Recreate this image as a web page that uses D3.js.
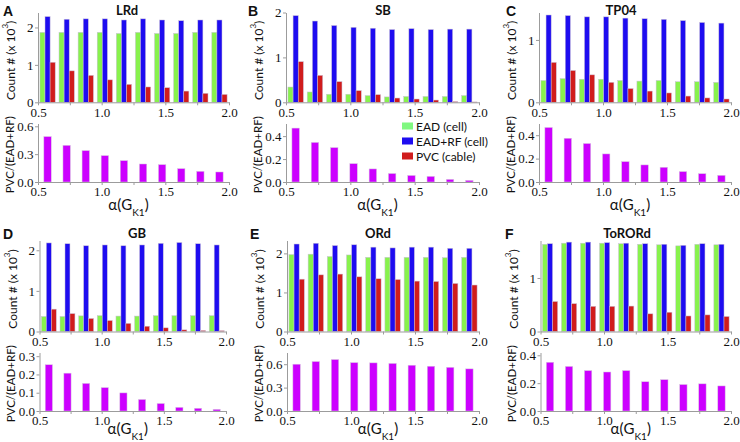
<!DOCTYPE html>
<html><head><meta charset="utf-8">
<script src="https://cdn.jsdelivr.net/npm/d3@7/dist/d3.min.js"></script>
<style>body{margin:0;background:#fff} svg{display:block}</style>
</head><body><svg id="c" width="740" height="442"></svg>
<script>
// ---------- data ----------
const alphaBins = [0.575, 0.725, 0.875, 1.025, 1.175, 1.325, 1.475, 1.625, 1.775, 1.925];
const xTickLabels = [0.5, 1.0, 1.5, 2.0];
const xMinorTicks = [0.75, 1.25, 1.75];
const seriesNames = ["EAD (cell)", "EAD+RF (cell)", "PVC (cable)"];
const modelNames = ["LRd", "SB", "TP04", "GB", "ORd", "ToRORd"];
const panelLetters = ["A", "B", "C", "D", "E", "F"];

// LRd
const eadLRd   = [1.87, 1.87, 1.87, 1.87, 1.84, 1.87, 1.84, 1.84, 1.87, 1.87];
const eadrfLRd = [2.29, 2.22, 2.23, 2.23, 2.20, 2.23, 2.20, 2.18, 2.20, 2.20];
const pvcLRd   = [1.07, 0.84, 0.72, 0.60, 0.48, 0.41, 0.39, 0.30, 0.24, 0.21];
const ratioLRd = [0.489, 0.395, 0.338, 0.284, 0.230, 0.194, 0.187, 0.144, 0.115, 0.108];
// SB
const eadSB   = [0.34, 0.23, 0.18, 0.18, 0.15, 0.12, 0.13, 0.13, 0.13, 0.15];
const eadrfSB = [1.93, 1.81, 1.71, 1.67, 1.65, 1.62, 1.64, 1.62, 1.63, 1.63];
const pvcSB   = [0.905, 0.60, 0.46, 0.26, 0.17, 0.095, 0.073, 0.05, 0.015, 0.008];
const ratioSB = [0.47, 0.345, 0.30, 0.16, 0.114, 0.074, 0.057, 0.049, 0.023, 0.014];
// TP04
const eadTP04   = [0.35, 0.38, 0.37, 0.37, 0.35, 0.34, 0.35, 0.33, 0.33, 0.32];
const eadrfTP04 = [1.40, 1.39, 1.37, 1.37, 1.35, 1.34, 1.33, 1.31, 1.28, 1.27];
const pvcTP04   = [0.64, 0.51, 0.44, 0.32, 0.22, 0.18, 0.15, 0.10, 0.07, 0.053];
const ratioTP04 = [0.466, 0.374, 0.329, 0.24, 0.174, 0.146, 0.126, 0.089, 0.071, 0.057];
// GB
const eadGB   = [0.37, 0.37, 0.385, 0.39, 0.38, 0.38, 0.39, 0.39, 0.39, 0.39];
const eadrfGB = [2.18, 2.16, 2.11, 2.13, 2.11, 2.13, 2.17, 2.19, 2.16, 2.13];
const pvcGB   = [0.55, 0.44, 0.32, 0.27, 0.20, 0.13, 0.09, 0.04, 0.025, 0.02];
const ratioGB = [0.253, 0.207, 0.151, 0.128, 0.099, 0.063, 0.041, 0.020, 0.015, 0.009];
// ORd
const eadORd   = [1.97, 1.98, 1.92, 1.96, 1.90, 1.90, 1.90, 1.90, 1.89, 1.90];
const eadrfORd = [2.24, 2.26, 2.20, 2.22, 2.16, 2.14, 2.16, 2.16, 2.13, 2.13];
const pvcORd   = [1.34, 1.45, 1.47, 1.40, 1.35, 1.33, 1.29, 1.28, 1.23, 1.19];
const ratioORd = [0.60, 0.634, 0.66, 0.62, 0.617, 0.61, 0.587, 0.574, 0.56, 0.54];
// ToRORd
const eadToRORd   = [1.63, 1.65, 1.65, 1.65, 1.64, 1.63, 1.62, 1.60, 1.63, 1.62];
const eadrfToRORd = [1.64, 1.67, 1.67, 1.66, 1.65, 1.64, 1.63, 1.61, 1.64, 1.63];
const pvcToRORd   = [0.56, 0.52, 0.47, 0.47, 0.475, 0.33, 0.36, 0.29, 0.31, 0.28];
const ratioToRORd = [0.35, 0.32, 0.29, 0.28, 0.29, 0.21, 0.225, 0.19, 0.195, 0.18];

// y tick labels per panel
const countTicks = [[0, 1, 2], [0, 1, 2], [0, 1], [0, 1, 2], [0, 1, 2], [0, 1]];
const ratioTicks = [[0, 0.3, 0.6], [0, 0.2, 0.4], [0, 0.2, 0.4], [0, 0.1, 0.2, 0.3], [0, 0.3, 0.6], [0, 0.2, 0.4]];

const eadAll   = [eadLRd, eadSB, eadTP04, eadGB, eadORd, eadToRORd];
const eadrfAll = [eadrfLRd, eadrfSB, eadrfTP04, eadrfGB, eadrfORd, eadrfToRORd];
const pvcAll   = [pvcLRd, pvcSB, pvcTP04, pvcGB, pvcORd, pvcToRORd];
const ratioAll = [ratioLRd, ratioSB, ratioTP04, ratioGB, ratioORd, ratioToRORd];

// ---------- layout ----------
const rowsLayout = [
  {topA: 12.5, topB: 102.3, botA: 123.5, botB: 182, titleY: 14.5, xTitleY: 210},
  {topA: 240.5, topB: 331.5, botA: 352.5, botB: 411, titleY: 238, xTitleY: 434}
];
const panelLayout = [
  {x0: 38,    x1: 229, row: 0, topMax: 2.4,  botMax: 0.63, titleX: 127, letterX: 3},
  {x0: 286,   x1: 479, row: 0, topMax: 2.0,  botMax: 0.51, titleX: 383, letterX: 248},
  {x0: 539,   x1: 731, row: 0, topMax: 1.44, botMax: 0.50, titleX: 621, letterX: 506},
  {x0: 39.5,  x1: 226, row: 1, topMax: 2.24, botMax: 0.32, titleX: 137, letterX: 3},
  {x0: 287,   x1: 479, row: 1, topMax: 2.33, botMax: 0.75, titleX: 378, letterX: 250},
  {x0: 540.5, x1: 731, row: 1, topMax: 1.70, botMax: 0.42, titleX: 627, letterX: 505}
];
const colors = {ead: "#88f24c", eadrf: "#1e0cf0", pvc: "#d01c1c", ratio: "#cc00ff", axis: "#9c9c9c"};
const legendColors = ["#80f880", "#1e0cf0", "#d01c1c"];
const numFont = "'Liberation Serif', 'Times New Roman', serif";
const sansFont = "Lato, 'Open Sans', sans-serif";

const svg = d3.select("#c");

function styleAxis(g) {
  g.select(".domain").attr("stroke", colors.axis).attr("stroke-width", 1);
  g.selectAll(".tick line").attr("stroke", colors.axis);
  g.selectAll(".tick text").attr("font-family", numFont).attr("font-size", 13).attr("fill", "#111");
}

panelLayout.forEach((L, p) => {
  const R = rowsLayout[L.row];
  const x = d3.scaleLinear().domain([0.5, 2.0]).range([L.x0, L.x1]);
  const yTop = d3.scaleLinear().domain([0, L.topMax]).range([R.topB, R.topA]);
  const yBot = d3.scaleLinear().domain([0, L.botMax]).range([R.botB, R.botA]);
  const g = svg.append("g");

  // top grouped bars
  const series = [
    {vals: eadAll[p], off: -0.06, c: colors.ead},
    {vals: eadrfAll[p], off: -0.02, c: colors.eadrf},
    {vals: pvcAll[p], off: 0.02, c: colors.pvc}
  ];
  series.forEach(s => {
    g.append("g").selectAll("rect").data(alphaBins).join("rect")
      .attr("x", (a) => x(a + s.off))
      .attr("width", (a) => x(a + s.off + 0.04) - x(a + s.off))
      .attr("y", (a, i) => yTop(s.vals[i]))
      .attr("height", (a, i) => yTop(0) - yTop(s.vals[i]))
      .attr("fill", s.c)
      .attr("stroke", "#c9c0d8").attr("stroke-width", 0.5);
  });
  // bottom ratio bars
  g.append("g").selectAll("rect").data(alphaBins).join("rect")
    .attr("x", a => x(a - 0.029))
    .attr("width", a => x(a + 0.029) - x(a - 0.029))
    .attr("y", (a, i) => yBot(ratioAll[p][i]))
    .attr("height", (a, i) => yBot(0) - yBot(ratioAll[p][i]))
    .attr("fill", colors.ratio)
    .attr("stroke", "#d8c8e0").attr("stroke-width", 0.5);

  const xAllTicks = xTickLabels.concat(xMinorTicks).sort((a, b) => a - b);
  const xAxis = d3.axisBottom(x).tickValues(xAllTicks).tickSize(3).tickSizeOuter(0).tickPadding(2)
    .tickFormat(d => xTickLabels.includes(d) ? d3.format(".1f")(d) : "");
  g.append("g").attr("transform", `translate(0,${R.topB})`).call(xAxis).call(styleAxis);
  g.append("g").attr("transform", `translate(0,${R.botB})`).call(xAxis).call(styleAxis);

  g.append("g").attr("transform", `translate(${L.x0},0)`)
    .call(d3.axisLeft(yTop).tickValues(countTicks[p]).tickSize(3).tickSizeOuter(0).tickPadding(1.5).tickFormat(d3.format("d")))
    .call(styleAxis);
  g.append("g").attr("transform", `translate(${L.x0},0)`)
    .call(d3.axisLeft(yBot).tickValues(ratioTicks[p]).tickSize(3).tickSizeOuter(0).tickPadding(1.5).tickFormat(d3.format(".1f")))
    .call(styleAxis);

  // y titles
  const yl = g.append("text")
    .attr("transform", `translate(${L.x0 - 28},${(R.topA + R.topB) / 2 + 3}) rotate(-90)`)
    .attr("text-anchor", "middle").attr("dominant-baseline", "central")
    .attr("font-family", sansFont).attr("font-size", 12).attr("fill", "#111");
  yl.append("tspan").text("Count # (x 10");
  yl.append("tspan").attr("baseline-shift", "super").attr("font-size", 8).text("3");
  yl.append("tspan").text(")");
  g.append("text")
    .attr("transform", `translate(${L.x0 - 29},${(R.botA + R.botB) / 2 + 2}) rotate(-90)`)
    .attr("text-anchor", "middle").attr("dominant-baseline", "central")
    .attr("font-family", sansFont).attr("font-size", 11.5).attr("fill", "#111")
    .text("PVC/(EAD+RF)");

  // x title
  const xt = g.append("text")
    .attr("x", (L.x0 + L.x1) / 2 - 5).attr("y", R.xTitleY)
    .attr("text-anchor", "middle")
    .attr("font-family", sansFont).attr("font-size", 15).attr("fill", "#111");
  xt.append("tspan").text("α(G");
  xt.append("tspan").attr("baseline-shift", "sub").attr("font-size", 10).text("K1");
  xt.append("tspan").text(")");

  // panel title and letter
  g.append("text").attr("x", L.titleX).attr("y", R.titleY)
    .attr("text-anchor", "middle").attr("font-family", sansFont).attr("font-weight", "bold")
    .attr("font-size", 13).attr("fill", "#111").text(modelNames[p]);
  g.append("text").attr("x", L.letterX).attr("y", R.titleY + 1)
    .attr("font-family", "'Liberation Sans', Arial, sans-serif").attr("font-weight", "bold")
    .attr("font-size", 14).attr("fill", "#111").text(panelLetters[p]);

  // legend in panel B
  if (p === 1) {
    const lg = g.append("g");
    seriesNames.forEach((n, i) => {
      const cy = 126 + i * 15;
      lg.append("rect").attr("x", 402).attr("y", cy - 3.5).attr("width", 11).attr("height", 7)
        .attr("fill", legendColors[i]);
      lg.append("text").attr("x", 416).attr("y", cy).attr("dominant-baseline", "central")
        .attr("font-family", sansFont).attr("font-size", 12).attr("fill", "#111").text(n);
    });
  }
});
</script>
</body></html>
